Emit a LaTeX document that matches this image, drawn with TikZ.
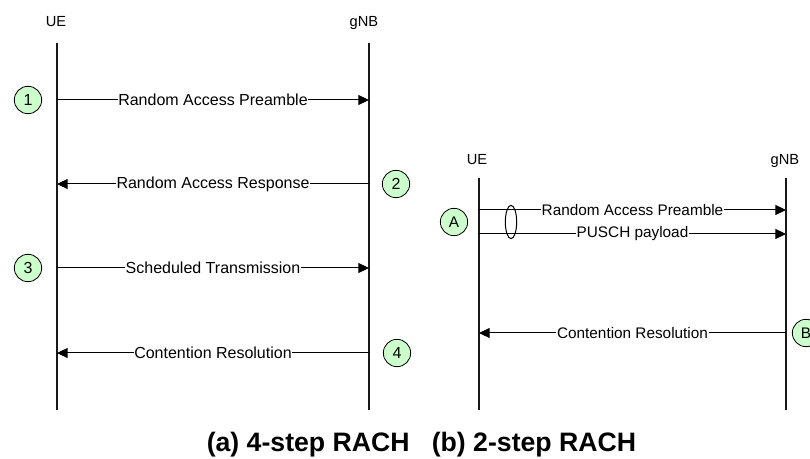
\documentclass[tikz,border=0pt]{standalone}
\usepackage{fontspec}
\setmainfont{Liberation Sans}
\usetikzlibrary{shapes.geometric, arrows.meta, positioning, calc}
\definecolor{cStep}{RGB}{204, 255, 204}
\definecolor{bLine}{RGB}{25, 25, 25}

\begin{document}
\begin{tikzpicture}[
    x=0.75pt, y=-0.75pt,
    font=\fontsize{12}{14}\selectfont,
    >={Triangle[length=8pt, width=7.5pt]},
    lifeline/.style={line width=1.1pt, color=bLine},
    msg/.style={->, line width=0.75pt},
    msglabel/.style={fill=white, inner sep=0.5pt},
    stepmark/.style={
        circle,
        draw,
        line width=0.6pt,
        fill=cStep,
        minimum size=20.5pt,
        inner sep=0pt
    },
    entity/.style={anchor=base, font=\fontsize{11}{13}\selectfont}
]
\useasboundingbox (0,0) rectangle (810,459);

% (a) 4-step RACH
\node[entity] (ueA) at (56,27) {UE};
\node[entity] (gnbA) at (364,27) {gNB};
\coordinate (ueAtop) at (57,43);
\coordinate (ueAbot) at (57,410);
\coordinate (gnbAtop) at (369,43);
\coordinate (gnbAbot) at (369,410);
\draw[lifeline] (ueAtop) -- (ueAbot);
\draw[lifeline] (gnbAtop) -- (gnbAbot);

\node[stepmark] (s1) at (28,100) {1};
\node[stepmark] (s2) at (396,184) {2};
\node[stepmark] (s3) at (28,268) {3};
\node[stepmark] (s4) at (397,353) {4};

\draw[msg] (ueAtop |- s1) -- node[msglabel] {Random Access Preamble} (gnbAtop |- s1);
\draw[msg] (gnbAtop |- s2) -- node[msglabel] {Random Access Response} (ueAtop |- s2);
\draw[msg] (ueAtop |- s3) -- node[msglabel] {Scheduled Transmission} (gnbAtop |- s3);
\draw[msg] (gnbAtop |- s4) -- node[msglabel] {Contention Resolution} (ueAtop |- s4);

% (b) 2-step RACH
\begin{scope}[font=\fontsize{11.5}{13}\selectfont]
\node[entity] (ueB) at (477,165) {UE};
\node[entity] (gnbB) at (785,165) {gNB};
\coordinate (ueBtop) at (479,178);
\coordinate (ueBbot) at (479,410);
\coordinate (gnbBtop) at (786,178);
\coordinate (gnbBbot) at (786,410);
\draw[lifeline] (ueBtop) -- (ueBbot);
\draw[lifeline] (gnbBtop) -- (gnbBbot);

\node[stepmark] (sA) at (454,222) {A};
\node[stepmark] (sB) at (806,333) {B};

\coordinate (mA1) at (479,210);
\coordinate (mA2) at (479,234);
\draw[msg] (mA1) -- node[msglabel] {Random Access Preamble} (gnbBtop |- mA1);
\draw[msg] (mA2) -- node[msglabel] {PUSCH payload} (gnbBtop |- mA2);
\node[draw, ellipse, line width=0.75pt, minimum width=8.5pt, minimum height=25pt, inner sep=0pt] (bundle) at (511,222) {};

\draw[msg] (gnbBtop |- sB) -- node[msglabel] {Contention Resolution} (ueBtop |- sB);
\end{scope}

% caption
\node[anchor=base, font=\fontsize{20}{24}\selectfont\bfseries] (caption) at (421.5,451)
    {(a) 4-step RACH\hspace{11pt} (b) 2-step RACH};

\end{tikzpicture}
\end{document}
